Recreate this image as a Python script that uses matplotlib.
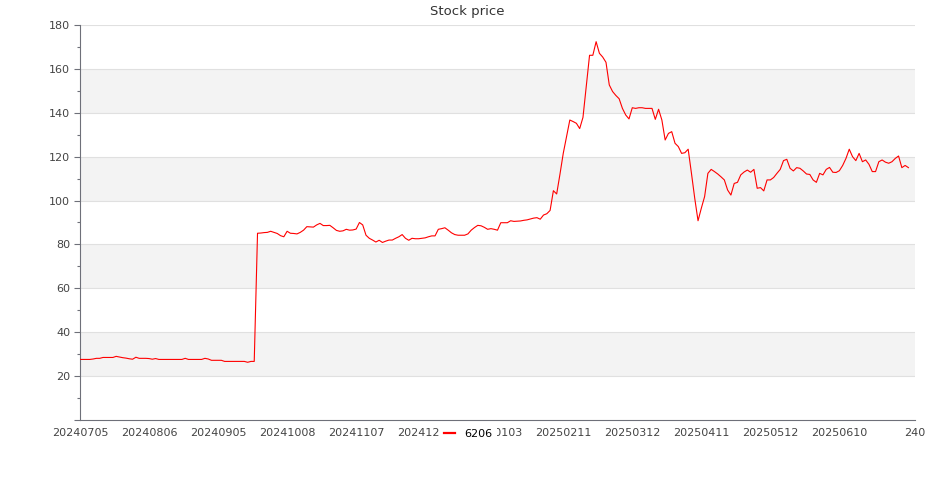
import matplotlib.pyplot as plt
from matplotlib.lines import Line2D

# closing price of 6206, one value per trading day
prices = [
    27.6, 27.6, 27.6, 27.6, 27.8, 28.1, 28.1, 28.5, 28.5, 28.5,
    28.5, 29.0, 28.7, 28.4, 28.2, 27.9, 27.7, 28.6, 28.1, 28.1,
    28.1, 28.0, 27.7, 28.0, 27.6, 27.6, 27.6, 27.6, 27.6, 27.6,
    27.6, 27.6, 28.1, 27.6, 27.6, 27.6, 27.6, 27.6, 28.1, 27.8,
    27.2, 27.2, 27.2, 27.2, 26.7, 26.7, 26.7, 26.7, 26.7, 26.7,
    26.7, 26.3, 26.7, 26.7, 85.1, 85.2, 85.4, 85.5, 86.0, 85.5,
    85.0, 84.0, 83.5, 86.0, 85.1, 85.0, 84.8, 85.5, 86.5, 88.1,
    88.0, 87.9, 88.9, 89.6, 88.6, 88.6, 88.7, 87.6, 86.4, 86.0,
    86.2, 86.9, 86.5, 86.6, 87.0, 90.0, 88.9, 84.2, 82.8, 82.0,
    81.1, 81.9, 80.9, 81.5, 82.0, 82.0, 82.8, 83.5, 84.5, 82.8,
    81.9, 82.8, 82.6, 82.6, 82.8, 83.0, 83.5, 83.9, 83.9, 86.9,
    87.2, 87.6, 86.5, 85.3, 84.5, 84.2, 84.2, 84.2, 84.8, 86.5,
    87.7, 88.7, 88.5, 87.8, 86.9, 87.2, 86.9, 86.5, 89.9, 89.9,
    89.9, 90.8, 90.5, 90.6, 90.7, 91.0, 91.2, 91.6, 92.0, 92.2,
    91.5, 93.4, 94.0, 95.5, 104.5, 103.0, 112.0, 121.5, 129.0, 136.7,
    136.0, 135.2, 132.8, 137.9, 152.0, 166.2, 166.2, 172.4, 167.1, 165.4,
    163.0, 152.7, 149.7, 147.9, 146.4, 142.0, 139.0, 137.2, 142.3, 142.0,
    142.3, 142.3, 142.0, 142.0, 142.0, 137.0, 141.6, 136.7, 127.6, 130.6,
    131.4, 126.1, 124.6, 121.5, 121.8, 123.4, 112.4, 101.0, 90.8, 96.5,
    101.8, 112.4, 114.2, 113.2, 112.1, 110.8, 109.4, 104.8, 102.5, 107.8,
    108.3, 111.7, 113.0, 113.9, 112.9, 114.2, 105.6, 105.9, 104.4, 109.4,
    109.4, 110.5, 112.4, 114.2, 118.2, 118.8, 114.7, 113.5, 115.0, 114.7,
    113.5, 112.1, 111.9, 109.4, 108.3, 112.4, 111.7, 114.2, 115.1, 112.9,
    112.8, 113.6, 116.0, 119.2, 123.4, 120.0, 118.2, 121.5, 117.7, 118.5,
    116.5, 113.2, 113.2, 117.7, 118.5, 117.5, 117.0, 117.7, 119.2, 120.3,
    115.0, 116.0, 115.0,
]

tick_pos = [0, 21, 42, 63, 84, 105, 126, 147, 168, 189, 210, 231, 254]
tick_labels = ["20240705", "20240806", "20240905", "20241008", "20241107",
               "20241206", "20250103", "20250211", "20250312", "20250411",
               "20250512", "20250610", "240"]
y_ticks = [0, 20, 40, 60, 80, 100, 120, 140, 160, 180]
n_cats = 255

fig = plt.figure(figsize=(9.35, 5.0), dpi=100)
ax = fig.add_axes([80/935, 80/500, 835/935, 395/500])

# alternating bands between y gridlines
for k in range(len(y_ticks) - 1):
    if k % 2 == 1:
        ax.axhspan(y_ticks[k], y_ticks[k+1], color="#f3f3f3", lw=0, zorder=0)
for v in y_ticks[1:]:
    ax.axhline(v, color="#e0e0e0", lw=0.8, zorder=1)

ax.plot(range(len(prices)), prices, color="#ff0000", lw=0.8, zorder=3)

ax.set_xlim(0, n_cats - 1)
ax.set_ylim(0, 180)
ax.set_xticks(tick_pos)
ax.set_xticklabels(tick_labels)
ax.set_yticks(y_ticks)
ax.set_yticklabels([""] + [str(v) for v in y_ticks[1:]])
ax.set_yticks(range(10, 180, 20), minor=True)

ax.tick_params(axis="x", length=0, pad=6, labelsize=8, labelcolor="#444444")
ax.tick_params(axis="y", which="major", length=4, width=0.8, color="#6e7079",
               pad=3, labelsize=8, labelcolor="#444444")
ax.tick_params(axis="y", which="minor", length=2.5, width=0.8, color="#6e7079")

for s in ["top", "right"]:
    ax.spines[s].set_visible(False)
for s in ["left", "bottom"]:
    ax.spines[s].set_color("#6e7079")
    ax.spines[s].set_linewidth(0.8)

fig.text(0.5, 1 - 12/500, "Stock price", ha="center", va="center",
         fontsize=9.5, color="#333333")

handle = Line2D([], [], color="#ff0000", lw=1.6)
fig.legend([handle], ["6206"], loc="center", bbox_to_anchor=(468/935, 1 - 434/500),
           frameon=True, facecolor="white", edgecolor="none", framealpha=1,
           fontsize=8, handlelength=1.0, handletextpad=0.8, borderpad=0.4)

plt.savefig("out.png", dpi=100)
